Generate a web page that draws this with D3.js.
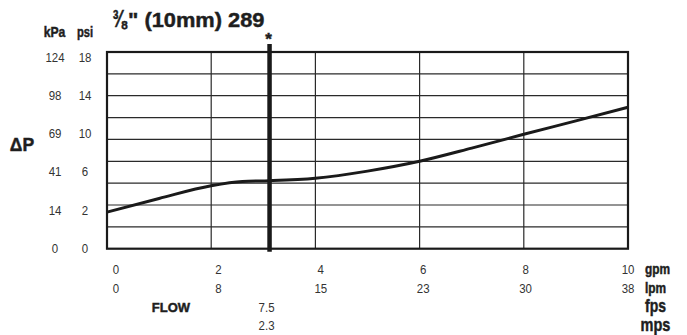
<!DOCTYPE html>
<html><head><meta charset="utf-8">
<script src="https://cdn.jsdelivr.net/npm/d3@7/dist/d3.min.js"></script>
<style>
html,body{margin:0;padding:0;background:#fff;}
svg{display:block;}
text{font-family:'Liberation Sans',Arial,Helvetica,sans-serif;}
text.heavy{font-weight:bold;fill:#1e1e1e;stroke:#1e1e1e;stroke-width:0.45px;}
</style></head><body>
<svg id="c" width="687" height="335"></svg>
<script>
// Data
const flowGpm = [0, 1, 2, 2.6, 3.12, 4, 5, 6, 7, 8, 9, 10];
const dpPsi   = [3.35, 4.6, 5.76, 6.15, 6.22, 6.45, 7.1, 8.0, 9.2, 10.47, 11.7, 12.95];
const psiTicks = [0, 2, 6, 10, 14, 18];
const kpaTicks = ["0", "14", "41", "69", "98", "124"];
const gpmTicks = [0, 2, 4, 6, 8, 10];
const lpmTicks = ["0", "8", "15", "23", "30", "38"];
const markerGpm = 3.12;
const markerFps = "7.5";
const markerMps = "2.3";
const titleFrac = "\u215C";
const titleRest = "\" (10mm) 289";

const svg = d3.select("#c");
const x = d3.scaleLinear().domain([0, 10]).range([107, 628]);
const y = d3.scaleLinear().domain([0, 18]).range([248.7, 52]);
const xLab = d3.scaleLinear().domain([0, 10]).range([116, 628]);
const yLab = d3.scalePoint().domain(psiTicks).range([248, 57]);

const NUM = 0.85;   // horizontal condensing of numerals
const NFS = 13.5;
const tf = (tx, ty, sx, sy = 1) => `translate(${tx},${ty}) scale(${sx},${sy})`;

// grid
const g = svg.append("g");
g.selectAll("line.h").data(d3.range(2, 18, 2)).join("line")
  .attr("x1", x(0)).attr("x2", x(10)).attr("y1", d => y(d)).attr("y2", d => y(d))
  .attr("stroke", "#2a2a2a").attr("stroke-width", 1.2);
g.selectAll("line.v").data([2, 4, 6, 8]).join("line")
  .attr("x1", d => x(d)).attr("x2", d => x(d)).attr("y1", y(18)).attr("y2", y(0))
  .attr("stroke", "#2a2a2a").attr("stroke-width", 1.2);
g.append("rect").attr("x", x(0)).attr("y", y(18)).attr("width", x(10) - x(0)).attr("height", y(0) - y(18))
  .attr("fill", "none").attr("stroke", "#1a1a1a").attr("stroke-width", 2.2);

// curve
const line = d3.line().x(d => x(d[0])).y(d => y(d[1])).curve(d3.curveMonotoneX);
svg.append("path").datum(flowGpm.map((f, i) => [f, dpPsi[i]]))
  .attr("d", line).attr("fill", "none").attr("stroke", "#1a1a1a").attr("stroke-width", 3);

// marker line
svg.append("line").attr("x1", x(markerGpm)).attr("x2", x(markerGpm))
  .attr("y1", y(18) - 8).attr("y2", y(0) + 3)
  .attr("stroke", "#1a1a1a").attr("stroke-width", 4.5);
svg.append("text").attr("class", "heavy").attr("x", x(markerGpm) - 1).attr("y", 45).attr("text-anchor", "middle")
  .attr("font-size", 17).text("*");

// y labels
const numFill = "#333";
svg.selectAll("text.kpa").data(psiTicks).join("text").attr("class", "kpa")
  .attr("transform", d => tf(55, yLab(d), NUM)).attr("dy", "0.35em").attr("text-anchor", "middle")
  .attr("font-size", NFS).attr("fill", numFill).text((d, i) => kpaTicks[i]);
svg.selectAll("text.psi").data(psiTicks).join("text").attr("class", "psi")
  .attr("transform", d => tf(85, yLab(d), NUM)).attr("dy", "0.35em").attr("text-anchor", "middle")
  .attr("font-size", NFS).attr("fill", numFill).text(d => d);
svg.append("text").attr("class", "heavy").attr("transform", tf(54.5, 36.5, 0.87)).attr("text-anchor", "middle")
  .attr("font-size", 14).text("kPa");
svg.append("text").attr("class", "heavy").attr("transform", tf(85, 36.5, 0.8)).attr("text-anchor", "middle")
  .attr("font-size", 14).text("psi");
svg.append("text").attr("class", "heavy").attr("x", 22).attr("y", 150.5).attr("text-anchor", "middle")
  .attr("font-size", 17.5).text("\u0394P");

// title
svg.append("text").attr("class", "heavy").attr("transform", tf(112.5, 27, 0.8, 1.15))
  .attr("font-size", 21).text(titleFrac);
svg.append("text").attr("class", "heavy").attr("x", 128).attr("y", 27).attr("font-size", 21)
  .attr("textLength", 136.5).attr("lengthAdjust", "spacingAndGlyphs").text(titleRest);

// x labels
svg.selectAll("text.gpm").data(gpmTicks).join("text").attr("class", "gpm")
  .attr("transform", d => tf(xLab(d), 269, NUM)).attr("dy", "0.35em").attr("text-anchor", "middle")
  .attr("font-size", NFS).attr("fill", numFill).text(d => d);
svg.selectAll("text.lpm").data(gpmTicks).join("text").attr("class", "lpm")
  .attr("transform", d => tf(xLab(d), 288.5, NUM)).attr("dy", "0.35em").attr("text-anchor", "middle")
  .attr("font-size", NFS).attr("fill", numFill).text((d, i) => lpmTicks[i]);
svg.append("text").attr("transform", tf(x(markerGpm) - 3, 307, NUM)).attr("dy", "0.35em").attr("text-anchor", "middle")
  .attr("font-size", NFS).attr("fill", numFill).text(markerFps);
svg.append("text").attr("transform", tf(x(markerGpm) - 3, 325.5, NUM)).attr("dy", "0.35em").attr("text-anchor", "middle")
  .attr("font-size", NFS).attr("fill", numFill).text(markerMps);
svg.append("text").attr("class", "heavy").attr("x", 171).attr("y", 307).attr("dy", "0.35em").attr("text-anchor", "middle")
  .attr("font-size", 13).text("FLOW");

const units = [["gpm", 269, 14, 645, 0.85], ["lpm", 288.5, 14, 645, 0.85],
               ["fps", 306, 17.5, 645, 0.8], ["mps", 324.5, 17.5, 640.5, 0.83]];
svg.selectAll("text.unit").data(units).join("text").attr("class", "unit heavy")
  .attr("transform", d => tf(d[3], d[1], d[4])).attr("dy", "0.35em")
  .attr("font-size", d => d[2]).text(d => d[0]);
</script></body></html>
